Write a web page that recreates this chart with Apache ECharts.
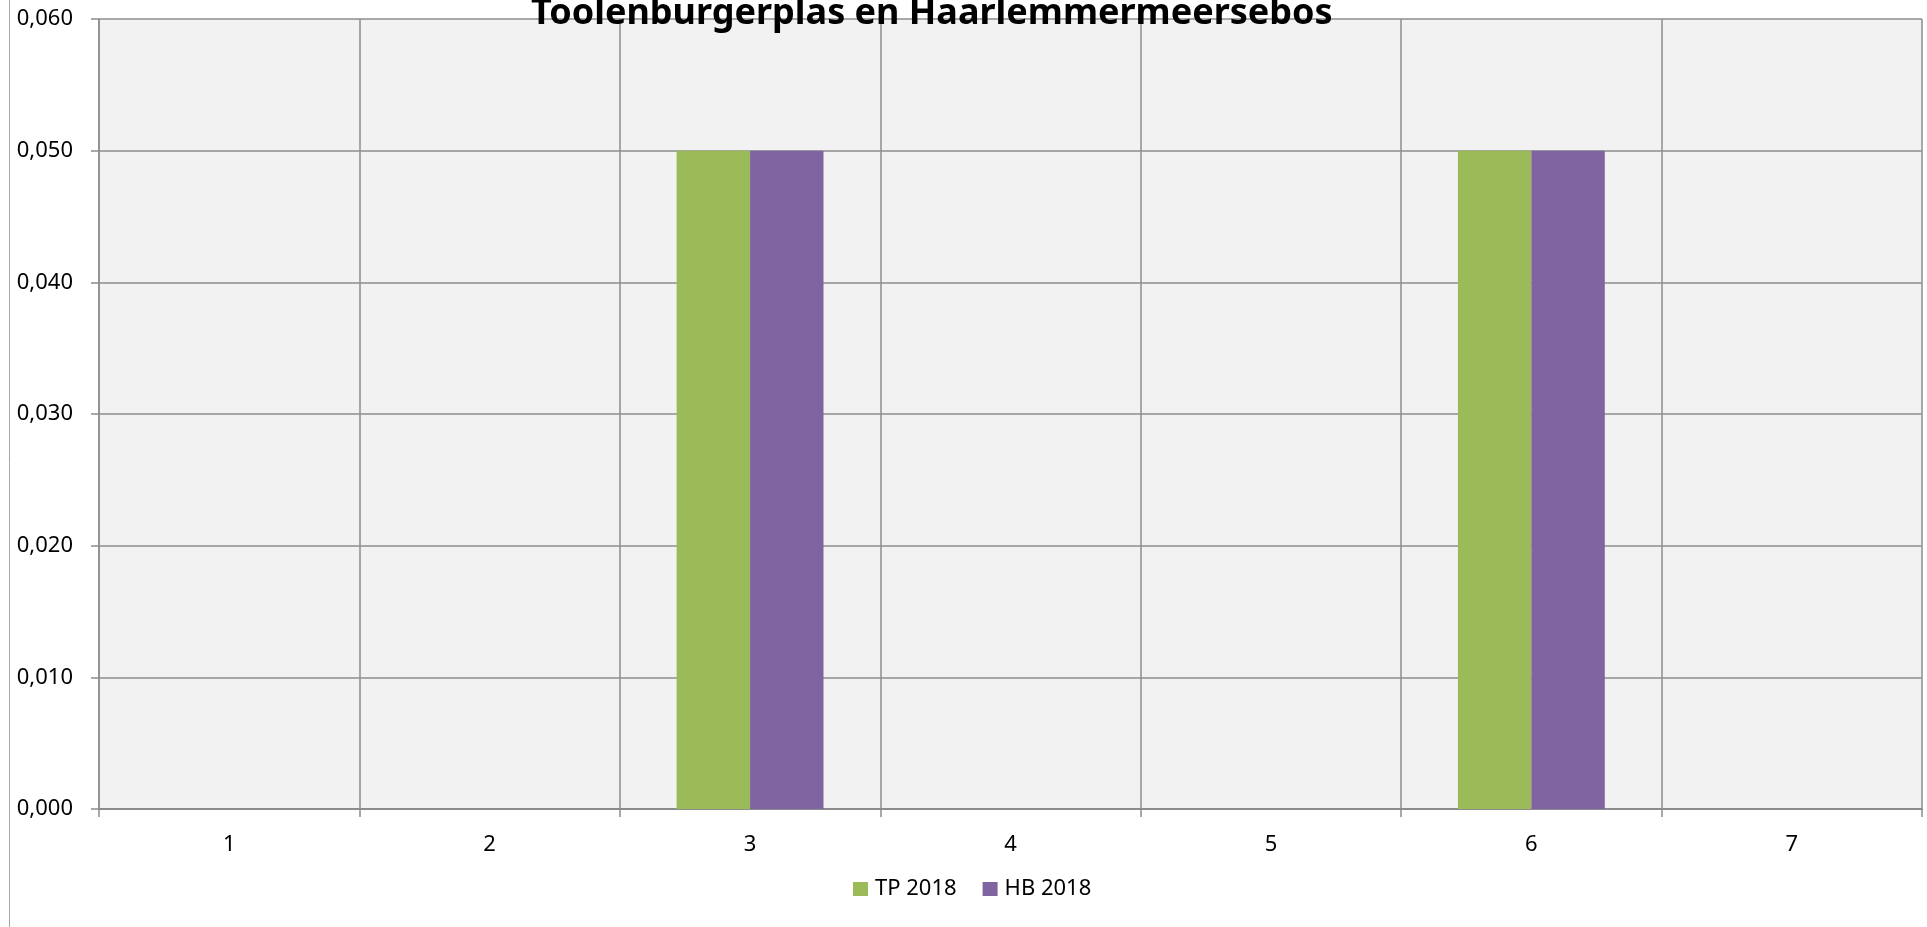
<!DOCTYPE html>
<html lang="nl">
  <head>
    <meta charset="UTF-8" />
    <title>Toolenburgerplas en Haarlemmermeersebos</title>
    <script src="https://cdn.jsdelivr.net/npm/echarts@6/dist/echarts.min.js"></script>
    <style>
      html,
      body {
        margin: 0;
        padding: 0;
        background: #fff;
      }
      #chart {
        width: 1927px;
        height: 927px;
      }
    </style>
  </head>
  <body>
    <div id="chart"></div>
    <script>
      var title = "Toolenburgerplas en Haarlemmermeersebos";
      var categories = ["1", "2", "3", "4", "5", "6", "7"];
      var tp2018 = [0, 0, 0.05, 0, 0, 0.05, 0];
      var hb2018 = [0, 0, 0.05, 0, 0, 0.05, 0];

      var gridColor = "#8c8c8c";
      var font = "Noto Sans";

      var chart = echarts.init(document.getElementById("chart"), null, {
        renderer: "canvas",
      });

      chart.setOption({
        animation: false,
        backgroundColor: "#fff",
        title: {
          text: title,
          left: 531,
          top: -4,
          padding: 0,
          textStyle: {
            fontFamily: font,
            fontWeight: "bold",
            fontSize: 36,
            color: "#000",
          },
        },
        legend: {
          left: 853,
          top: 878,
          itemWidth: 15,
          itemHeight: 14,
          itemGap: 26,
          padding: 0,
          icon: "rect",
          textStyle: {
            fontFamily: font,
            fontSize: 22,
            lineHeight: 20,
            color: "#000",
            padding: [0, 0, 0, 2],
          },
          data: ["TP 2018", "HB 2018"],
        },
        graphic: [
          {
            type: "line",
            shape: { x1: 9.5, y1: 0, x2: 9.5, y2: 927 },
            style: { stroke: "#a6a6a6", lineWidth: 1 },
            silent: true,
          },
        ],
        grid: {
          left: 99,
          right: 5,
          top: 19,
          bottom: 118,
          show: true,
          backgroundColor: "#f2f2f2",
          borderWidth: 0,
        },
        xAxis: {
          type: "category",
          data: categories,
          boundaryGap: true,
          axisLine: { lineStyle: { color: gridColor, width: 2 } },
          axisTick: { show: true, length: 8, lineStyle: { color: gridColor, width: 1.5 } },
          splitLine: { show: true, lineStyle: { color: gridColor, width: 1.5 } },
          axisLabel: { margin: 25, fontFamily: font, fontSize: 22, color: "#000" },
        },
        yAxis: {
          type: "value",
          min: 0,
          max: 0.06,
          interval: 0.01,
          axisLine: { show: true, lineStyle: { color: gridColor, width: 1.5 } },
          axisTick: { show: true, length: 8, lineStyle: { color: gridColor, width: 1.5 } },
          splitLine: { show: true, lineStyle: { color: gridColor, width: 1.5 } },
          axisLabel: {
            margin: 26,
            fontFamily: font,
            fontSize: 22,
            color: "#000",
            formatter: function (v) {
              return v.toFixed(3).replace(".", ",");
            },
          },
        },
        series: [
          {
            name: "TP 2018",
            type: "bar",
            data: tp2018,
            barGap: "0%",
            barCategoryGap: "43.6%",
            itemStyle: { color: "#9bbb59" },
          },
          {
            name: "HB 2018",
            type: "bar",
            data: hb2018,
            itemStyle: { color: "#8064a2" },
          },
        ],
      });
      window.onresize = chart.resize;
    </script>
  </body>
</html>
